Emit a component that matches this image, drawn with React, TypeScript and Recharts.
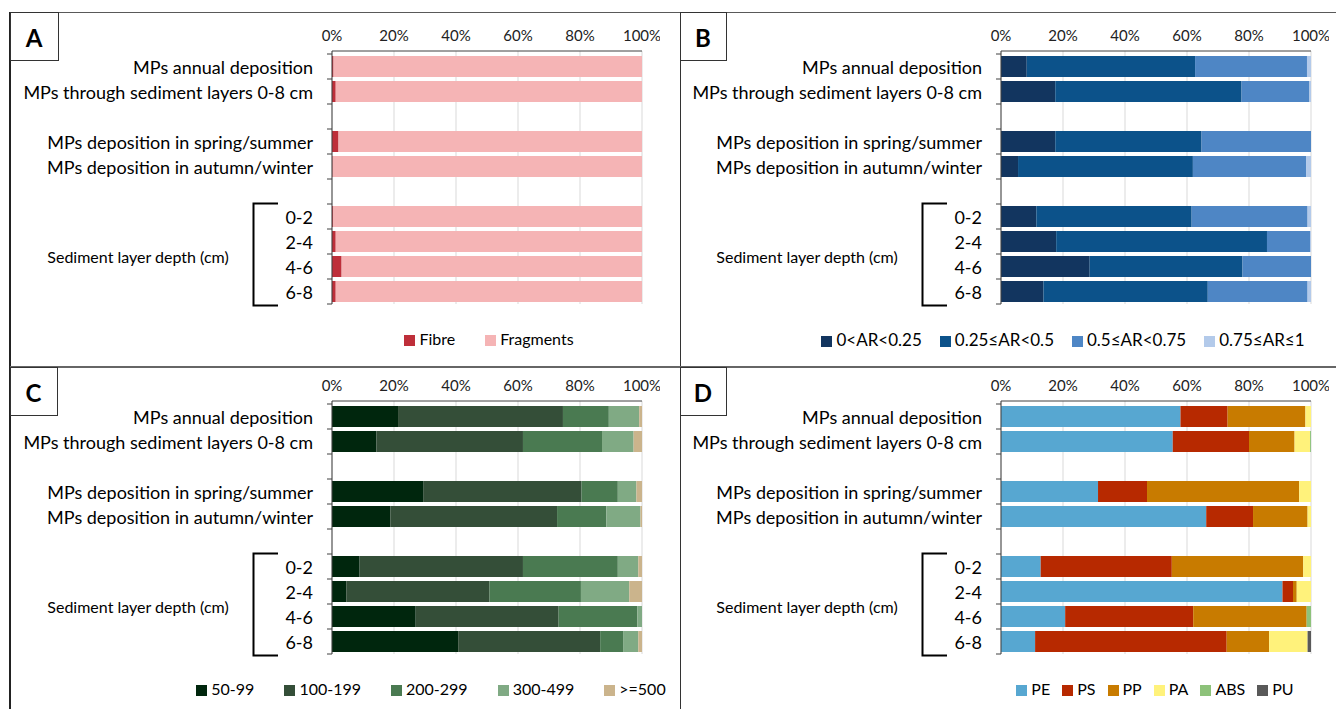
import React from "react";
import {
  Bar,
  BarChart,
  CartesianGrid,
  Legend,
  XAxis,
  YAxis,
} from "recharts";

const FONT = "Lato, 'Open Sans', sans-serif";

// rows top to bottom; the empty names are the spacer rows
const categories = [
  "MPs annual deposition",
  "MPs through sediment layers 0-8 cm",
  "",
  "MPs deposition in spring/summer",
  "MPs deposition in autumn/winter",
  "",
  "0-2",
  "2-4",
  "4-6",
  "6-8",
];

const percentTicks = [0, 20, 40, 60, 80, 100];

// A: shape
const fibre = [0.5, 1.2, 0, 2.1, 0.2, 0, 0.3, 1.2, 3.1, 1.2];
const fragments = [99.5, 98.8, 0, 97.9, 99.8, 0, 99.7, 98.8, 96.9, 98.8];

// B: aspect ratio
const ar1 = [8.3, 17.5, 0, 17.5, 5.5, 0, 11.4, 17.8, 28.6, 13.7];
const ar2 = [54.3, 60.1, 0, 47.2, 56.4, 0, 50.1, 68.0, 49.3, 53.0];
const ar3 = [36.1, 21.9, 0, 35.3, 36.5, 0, 37.4, 13.9, 22.1, 32.2];
const ar4 = [1.3, 0.5, 0, 0, 1.6, 0, 1.1, 0.3, 0, 1.1];

// C: size classes
const size50 = [21.3, 14.3, 0, 29.4, 18.8, 0, 8.9, 4.6, 27.0, 40.7];
const size100 = [53.2, 47.3, 0, 51.1, 53.8, 0, 52.7, 46.2, 46.1, 45.8];
const size200 = [14.8, 25.5, 0, 11.7, 15.9, 0, 30.6, 29.5, 25.4, 7.4];
const size300 = [9.8, 10.2, 0, 6.0, 11.0, 0, 6.6, 15.6, 1.5, 4.9];
const size500 = [0.9, 2.7, 0, 1.8, 0.5, 0, 1.2, 4.1, 0, 1.2];

// D: polymers
const pe = [57.9, 55.4, 0, 31.3, 66.2, 0, 12.8, 90.8, 20.7, 11.0];
const ps = [15.2, 24.6, 0, 15.8, 15.1, 0, 42.3, 3.4, 41.3, 61.8];
const pp = [25.1, 14.7, 0, 49.1, 17.6, 0, 42.4, 1.2, 36.6, 13.7];
const pa = [1.8, 5.0, 0, 3.8, 1.1, 0, 2.5, 4.6, 0, 12.4];
const abs = [0, 0.3, 0, 0, 0, 0, 0, 0, 1.4, 0];
const pu = [0, 0, 0, 0, 0, 0, 0, 0, 0, 1.1];

type Series = { key: string; name: string; values: number[]; color: string };

const panelA: Series[] = [
  { key: "fibre", name: "Fibre", values: fibre, color: "#BE2F3A" },
  { key: "fragments", name: "Fragments", values: fragments, color: "#F5B4B5" },
];
const panelB: Series[] = [
  { key: "ar1", name: "0<AR<0.25", values: ar1, color: "#12355F" },
  { key: "ar2", name: "0.25≤AR<0.5", values: ar2, color: "#0C528A" },
  { key: "ar3", name: "0.5≤AR<0.75", values: ar3, color: "#4E86C5" },
  { key: "ar4", name: "0.75≤AR≤1", values: ar4, color: "#B3CAEA" },
];
const panelC: Series[] = [
  { key: "s50", name: "50-99", values: size50, color: "#00260D" },
  { key: "s100", name: "100-199", values: size100, color: "#344E38" },
  { key: "s200", name: "200-299", values: size200, color: "#4A7A51" },
  { key: "s300", name: "300-499", values: size300, color: "#80AA84" },
  { key: "s500", name: ">=500", values: size500, color: "#CBB48C" },
];
const panelD: Series[] = [
  { key: "pe", name: "PE", values: pe, color: "#57A7D1" },
  { key: "ps", name: "PS", values: ps, color: "#B72900" },
  { key: "pp", name: "PP", values: pp, color: "#C87B00" },
  { key: "pa", name: "PA", values: pa, color: "#FFF27B" },
  { key: "abs", name: "ABS", values: abs, color: "#8DC27A" },
  { key: "pu", name: "PU", values: pu, color: "#595959" },
];

function buildRows(series: Series[]) {
  return categories.map((name, i) => {
    const row: Record<string, string | number> = { name, idx: i };
    for (const s of series) row[s.key] = s.values[i];
    return row;
  });
}

function CategoryTick(props: any) {
  const { x, y, payload, index } = props;
  const half = payload && payload.offset ? payload.offset : 12.5;
  const axisX = x + 19;
  const label = categories[payload.value] ?? "";
  return (
    <g>
      <line x1={axisX - 5} x2={axisX} y1={y - half} y2={y - half} stroke="#404040" />
      {index === categories.length - 1 && (
        <line x1={axisX - 5} x2={axisX} y1={y + half} y2={y + half} stroke="#404040" />
      )}
      <text
        x={x}
        y={y}
        textAnchor="end"
        dominantBaseline="central"
        fontSize={18}
        fontFamily={FONT}
        fill="#000"
      >
        {label}
      </text>
    </g>
  );
}

interface PanelProps {
  series: Series[];
  left: number;
  top: number;
  legendLeft: number;
  legendGap: number;
  legendFont: number;
}

function Panel({ series, left, top, legendLeft, legendGap, legendFont }: PanelProps) {
  const data = buildRows(series);
  const order = series.map((s) => s.name);
  return (
    <div style={{ position: "absolute", left, top }}>
      <BarChart
        width={660}
        height={367}
        data={data}
        layout="vertical"
        margin={{ top: 21, right: 18, bottom: 63, left: 0 }}
        barSize={21}
      >
        <CartesianGrid horizontal={false} stroke="#D9D9D9" />
        <XAxis
          type="number"
          orientation="top"
          domain={[0, 100]}
          ticks={percentTicks}
          tickFormatter={(v) => `${v}%`}
          allowDataOverflow
          height={30}
          tickLine={false}
          tickSize={4}
          tickMargin={6}
          axisLine={{ stroke: "#404040" }}
          tick={{ fontSize: 15, fontFamily: FONT, fill: "#222" }}
        />
        <YAxis
          type="category"
          dataKey="idx"
          width={332}
          padding={{ top: 3, bottom: 0 }}
          axisLine={{ stroke: "#404040" }}
          tickLine={false}
          tickSize={0}
          tickMargin={19}
          interval={0}
          tick={<CategoryTick />}
        />
        {series.map((s) => (
          <Bar
            key={s.key}
            dataKey={s.key}
            name={s.name}
            stackId="a"
            fill={s.color}
            isAnimationActive={false}
          />
        ))}
        <Legend
          layout="horizontal"
          verticalAlign="middle"
          align="center"
          iconType="square"
          iconSize={11}
          itemSorter={(item: any) => order.indexOf(item.value)}
          wrapperStyle={{
            left: legendLeft,
            top: 329,
            width: 600,
            fontSize: legendFont,
            fontFamily: FONT,
          }}
          formatter={(value) => (
            <span style={{ color: "#000", marginRight: legendGap }}>{value}</span>
          )}
        />
      </BarChart>
    </div>
  );
}

function Decorations() {
  const groups = [
    { dx: 0, dy: 0 },
    { dx: 669, dy: 0 },
    { dx: 0, dy: 350 },
    { dx: 669, dy: 350 },
  ];
  const boxes = [
    { x: 10, y: 12, w: 48, label: "A" },
    { x: 680, y: 12, w: 46, label: "B" },
    { x: 10, y: 367, w: 47, label: "C" },
    { x: 680, y: 367, w: 46, label: "D" },
  ];
  return (
    <svg
      width={1336}
      height={709}
      style={{ position: "absolute", left: 0, top: 0, pointerEvents: "none" }}
    >
      <line x1={10} x2={1336} y1={12.5} y2={12.5} stroke="#595959" />
      <line x1={10} x2={10} y1={12} y2={709} stroke="#222" strokeWidth={2} />
      <line x1={680.5} x2={680.5} y1={12} y2={709} stroke="#333" />
      <line x1={10} x2={1336} y1={367} y2={367} stroke="#666" strokeWidth={2} />
      {boxes.map((b) => (
        <g key={b.label}>
          <rect x={b.x + 0.5} y={b.y + 0.5} width={b.w} height={48} fill="#fff" stroke="#333" />
          <text
            x={b.x + b.w / 2}
            y={b.y + 25}
            textAnchor="middle"
            dominantBaseline="central"
            fontSize={24}
            fontWeight="bold"
            fontFamily={FONT}
            fill="#000"
          >
            {b.label}
          </text>
        </g>
      ))}
      {groups.map((g, i) => (
        <g key={i} transform={`translate(${g.dx},${g.dy})`}>
          <path
            d="M278,203.5 H253.5 V305.5 H278"
            fill="none"
            stroke="#000"
            strokeWidth={2}
          />
          <text
            x={138}
            y={256}
            textAnchor="middle"
            dominantBaseline="central"
            fontSize={16}
            fontFamily={FONT}
            fill="#000"
          >
            Sediment layer depth (cm)
          </text>
        </g>
      ))}
    </svg>
  );
}

export default function App() {
  return (
    <div
      style={{
        position: "absolute",
        left: 0,
        top: 0,
        width: 1336,
        height: 709,
        overflow: "hidden",
        background: "#fff",
        fontFamily: FONT,
      }}
    >
      <Panel series={panelA} left={0} top={0} legendLeft={204} legendGap={20} legendFont={16} />
      <Panel series={panelB} left={669} top={0} legendLeft={103} legendGap={8} legendFont={17} />
      <Panel series={panelC} left={0} top={350} legendLeft={146} legendGap={20} legendFont={16} />
      <Panel series={panelD} left={669} top={350} legendLeft={192} legendGap={2} legendFont={16} />
      <Decorations />
    </div>
  );
}
